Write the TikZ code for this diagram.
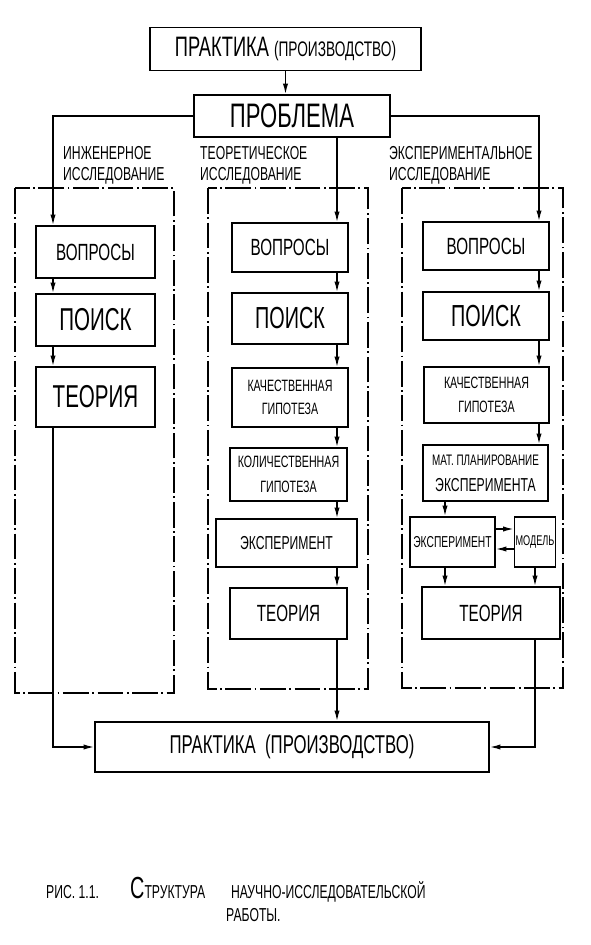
\documentclass[tikz,border=0pt]{standalone}
\usepackage{fontspec}
\setmainfont{Liberation Sans}[FakeStretch=0.65]
\usetikzlibrary{arrows.meta}

\tikzset{
  blok/.style={draw, line width=1.4pt, inner sep=0pt, align=center},
  wh/.style 2 args={minimum width=#1*0.03cm, minimum height=#2*0.03cm},
  sz/.style 2 args={font=\fontsize{#1}{#2}\selectfont},
  ramka/.style={line width=1.1pt, dash pattern=on 22pt off 3pt on 1.5pt off 3pt},
  strelka/.style={line width=1.2pt, -{Latex[length=9pt,width=4.5pt]}},
  podpis/.style={align=left, inner sep=0pt, anchor=north west, sz={16}{18}},
  ris/.style={anchor=base west, inner sep=0pt, sz={16}{18}},
}

\begin{document}
\begin{tikzpicture}[x=0.03cm, y=-0.03cm]
\useasboundingbox (0,0) rectangle (591,945);
% White sheet
\fill[white] (0,0) rectangle (591,945);

% Top: practice and problem
\node[blok, wh={271}{43}] (prak) at (285.5,49) {\fontsize{24}{26}\selectfont ПРАКТИКА \fontsize{18}{20}\selectfont (ПРОИЗВОДСТВО)};
\node[blok, wh={196}{42}, sz={29}{31}] (probl) at (292,116) {ПРОБЛЕМА};

% x of the vertical lines in each column
\coordinate (lx) at (53,0);
\coordinate (mx) at (337,0);
\coordinate (rx) at (539,0);
\coordinate (ex) at (445,0);
\coordinate (ya) at (0,529);
\coordinate (yb) at (0,549);

% Column titles
\node[podpis] (ing) at (63,146) {ИНЖЕНЕРНОЕ\\ИССЛЕДОВАНИЕ};
\node[podpis] (teor) at (200,146) {ТЕОРЕТИЧЕСКОЕ\\ИССЛЕДОВАНИЕ};
\node[podpis] (eksp) at (389,146) {ЭКСПЕРИМЕНТАЛЬНОЕ\\ИССЛЕДОВАНИЕ};

% Dash-dot frames
\draw[ramka] (15,188) rectangle (174,693);
\draw[ramka] (208,188) rectangle (368,689);
\draw[ramka] (402,188) rectangle (563,688);

% Left column
\node[blok, wh={119}{52}, sz={20}{22}] (lvop) at (95.5,252) {ВОПРОСЫ};
\node[blok, wh={119}{52}, sz={27}{29}] (lpoi) at (95.5,320) {ПОИСК};
\node[blok, wh={119}{60}, sz={27}{29}] (lteo) at (95.5,397) {ТЕОРИЯ};

% Middle column
\node[blok, wh={116}{49}, sz={20}{22}] (mvop) at (290,247.5) {ВОПРОСЫ};
\node[blok, wh={116}{51}, sz={26}{28}] (mpoi) at (290,318.5) {ПОИСК};
\node[blok, wh={116}{59}, sz={14}{20}] (mkach) at (290,397.5) {КАЧЕСТВЕННАЯ\\ГИПОТЕЗА};
\node[blok, wh={117}{53}, sz={14}{21}] (mkol) at (288.5,474.5) {КОЛИЧЕСТВЕННАЯ\\ГИПОТЕЗА};
\node[blok, wh={141}{48}, sz={16}{18}] (meks) at (286.5,543) {ЭКСПЕРИМЕНТ};
\node[blok, wh={117}{51}, sz={20}{22}] (mteo) at (288.5,613.5) {ТЕОРИЯ};

% Right column
\node[blok, wh={126}{48}, sz={20}{22}] (rvop) at (486,246) {ВОПРОСЫ};
\node[blok, wh={126}{48}, sz={26}{28}] (rpoi) at (486,316) {ПОИСК};
\node[blok, wh={125}{56}, sz={14}{20}] (rkach) at (486.5,395) {КАЧЕСТВЕННАЯ\\ГИПОТЕЗА};
\node[blok, wh={125}{56}, sz={16}{22}] (rplan) at (485.5,473) {{\fontsize{13}{15}\selectfont МАТ. ПЛАНИРОВАНИЕ}\\ЭКСПЕРИМЕНТА};
\node[blok, wh={85}{50}, sz={13.5}{15}] (reks) at (452.5,542) {ЭКСПЕРИМЕНТ};
\node[blok, wh={41}{50}, sz={12}{14}] (rmod) at (535,542) {МОДЕЛЬ};
\node[blok, wh={138}{52}, sz={20}{22}] (rteo) at (491,613) {ТЕОРИЯ};

% Bottom: practice again
\node[blok, wh={394}{50}, sz={22}{24}] (prak2) at (292,747) {ПРАКТИКА\ \ (ПРОИЗВОДСТВО)};

% Arrows from the top
\draw[strelka] (prak.south) -- (prak.south |- probl.north);
\draw[strelka] (probl.west) -| (lvop.north -| lx);
\draw[strelka] (probl.south -| mx) -- (mvop.north -| mx);
\draw[strelka] (probl.east) -| (rvop.north -| rx);

% Left chain
\foreach \a/\b in {lvop/lpoi, lpoi/lteo}
  \draw[strelka] (\a.south -| lx) -- (\b.north -| lx);
\draw[strelka] (lteo.south -| lx) |- (prak2.west);

% Middle chain
\foreach \a/\b in {mvop/mpoi, mpoi/mkach, mkach/mkol, mkol/meks, meks/mteo, mteo/prak2}
  \draw[strelka] (\a.south -| mx) -- (\b.north -| mx);

% Right chain
\foreach \a/\b in {rvop/rpoi, rpoi/rkach, rkach/rplan}
  \draw[strelka] (\a.south -| rx) -- (\b.north -| rx);
\draw[strelka] (rplan.south -| ex) -- (reks.north -| ex);
\draw[strelka] (reks.south -| ex) -- (rteo.north -| ex);
\draw[strelka] (reks.east |- ya) -- (rmod.west |- ya);
\draw[strelka] (rmod.west |- yb) -- (reks.east |- yb);
\draw[strelka] (rmod.south) -- (rmod.south |- rteo.north);
\draw[strelka] (rteo.south -| rmod.south) |- (prak2.east);

% Caption
\node[ris] (risn) at (46,898) {РИС. 1.1.};
\node[ris] (nazv) at (130,898) {{\fontsize{26}{28}\selectfont С}ТРУКТУРА\hspace{22pt}НАУЧНО-ИССЛЕДОВАТЕЛЬСКОЙ};
\node[ris] (nazv2) at (226,921) {РАБОТЫ.};
\end{tikzpicture}
\end{document}
